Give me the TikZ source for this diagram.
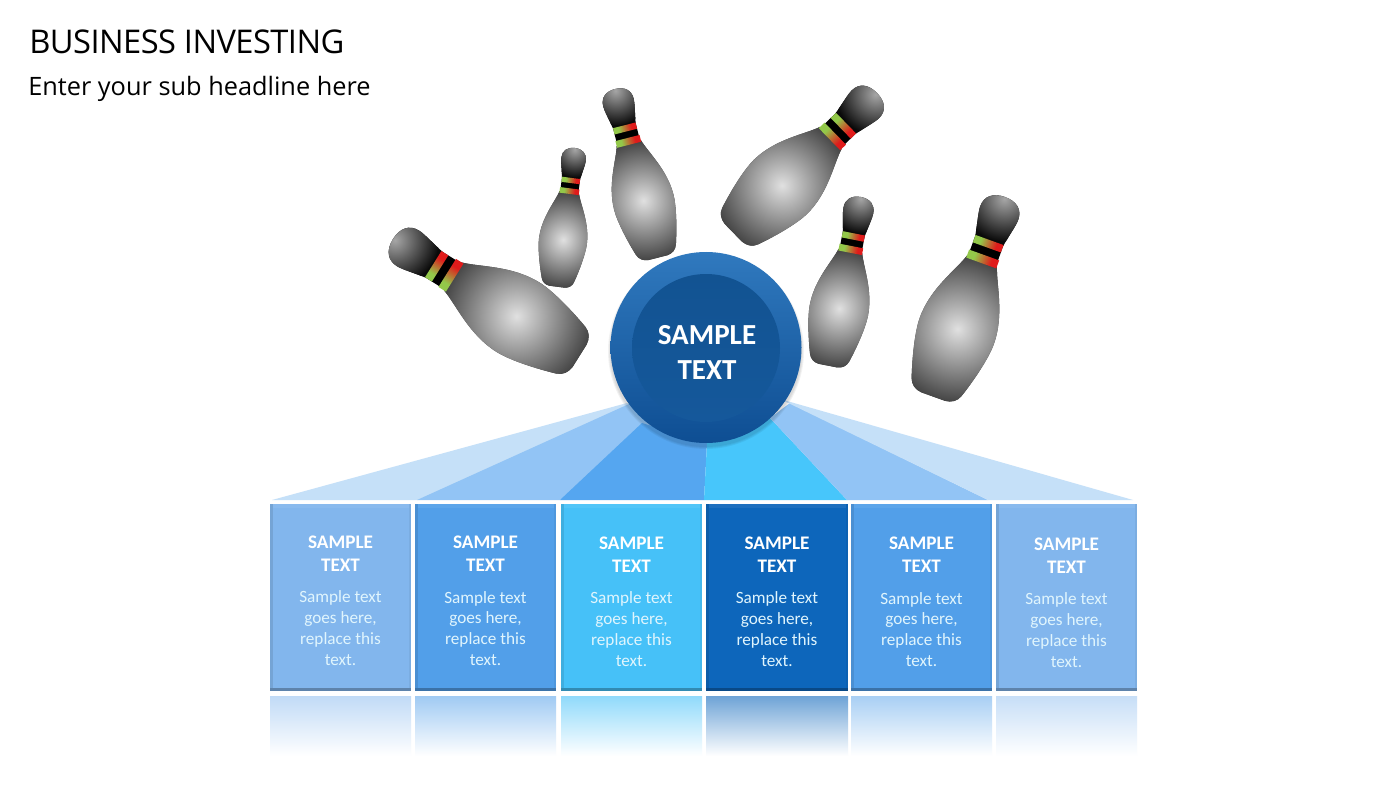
\documentclass[tikz,border=0pt]{standalone}
\usepackage{fontspec}
\setmainfont{Carlito}
\newfontfamily\titlefont[LetterSpace=-1.7]{Open Sans}
\newfontfamily\subtitlefont{Open Sans}
\usetikzlibrary{calc}
\definecolor{cA}{HTML}{82B6ED}
\definecolor{cB}{HTML}{529FE9}
\definecolor{cC}{HTML}{46C1F8}
\definecolor{cD}{HTML}{0D66BB}
\definecolor{fanA}{HTML}{C5E0F8}
\definecolor{fanB}{HTML}{92C4F5}
\definecolor{fanC}{HTML}{55A6F0}
\definecolor{fanD}{HTML}{47C6FB}
\definecolor{pinG}{HTML}{93C84A}
\definecolor{pinR}{HTML}{E01B1B}
\definecolor{ballTop}{HTML}{3079BE}
\definecolor{ballMid}{HTML}{16599C}
\definecolor{ballBot}{HTML}{0E4E93}
\definecolor{coreTop}{HTML}{125392}
\definecolor{coreBot}{HTML}{15589B}
\pgfdeclarehorizontalshading{bandsh}{100bp}{color(0bp)=(pinG);color(36bp)=(pinG);color(64bp)=(pinR);color(100bp)=(pinR)}
\tikzset{
  headtext/.style={font=\bfseries\fontsize{14.4}{17.2}\selectfont,text=white,align=center,inner sep=0pt},
  bodytext/.style={font=\fontsize{12.9}{15.7}\selectfont,text=white!88!cyan,align=center,inner sep=0pt},
  balltext/.style={font=\bfseries\fontsize{21.8}{26.5}\selectfont,text=white,align=center,inner sep=0pt},
  bandcol/.style={shading=bandsh},
}
% #1 tip x, #2 tip y, #3 base x, #4 base y, #5 width factor
\newcommand{\bowlingpin}[5]{%
  \pgfmathsetmacro{\pdx}{#3-#1}\pgfmathsetmacro{\pdy}{#4-#2}%
  \pgfmathsetmacro{\plen}{veclen(\pdx,\pdy)}%
  \pgfmathsetmacro{\pang}{90+atan2(-\pdy,\pdx)}%
  \pgfmathsetmacro{\psy}{\plen/100}%
  \pgfmathsetmacro{\psx}{\psy*#5}%
  \begin{scope}[transform canvas={shift={(#1,#2)},rotate=\pang,xscale=\psx,yscale=\psy}]
    % body
    \begin{scope}
      \path[clip] (-7.5,32) .. controls (-10,40) and (-18.5,52) .. (-18.5,67)
        .. controls (-18.5,74) and (-15.5,86) .. (-12.5,95)
        .. controls (-11.5,98) and (-9,99.5) .. (-6,99.8) -- (6,99.8)
        .. controls (9,99.5) and (11.5,98) .. (12.5,95)
        .. controls (15.5,86) and (18.5,74) .. (18.5,67)
        .. controls (18.5,52) and (10,40) .. (7.5,32) -- cycle;
      \fill[black!76] (-25,30) rectangle (25,102);
      \shade[inner color=black!12,outer color=black!76] (0,66) circle (36);
    \end{scope}
    % head
    \begin{scope}
      \path[clip] (0,0) .. controls (6,0) and (9.5,3) .. (9.5,8)
        .. controls (9.5,11) and (8,16) .. (7,22) -- (-7,22)
        .. controls (-8,16) and (-9.5,11) .. (-9.5,8)
        .. controls (-9.5,3) and (-6,0) .. (0,0) -- cycle;
      \fill[black!96] (-12,-1) rectangle (12,23);
      \shade[inner color=black!35,outer color=black!96] (0,1) circle (20);
    \end{scope}
    % band
    \fill[black] (-7,21.5) rectangle (7,32.5);
    \shade[bandcol] (-7,21.5) rectangle (7,25.2);
    \shade[bandcol] (-7.5,29) rectangle (7.5,33);
  \end{scope}%
}
% #1 name #2 left x #3 right x #4 colour #5 head y #6 reflection strength
\newcommand{\infobox}[6]{%
  \fill[#4] (#2,504) rectangle (#3,691);
  \fill[#4!94!white] (#2,504) rectangle (#3,508);
  \fill[#4!90!black] (#2,504) rectangle (#2+2.5,691);
  \fill[#4!95!black] (#3-2,504) rectangle (#3,691);
  \fill[#4!72!black] (#2,688) rectangle (#3,691);
  \shade[top color=#4!#6!white,bottom color=white] (#2,696) rectangle (#3,756);
  \node[headtext] (#1h) at ({(#2+#3)/2},#5) {SAMPLE\\TEXT};
  \node[bodytext] (#1b) at ({(#2+#3)/2},#5+74.5) {Sample text\\goes here,\\replace this\\text.};
}
\begin{document}
\begin{tikzpicture}[x=0.75pt,y=-0.75pt]
\useasboundingbox (0,0) rectangle (1400,788);
\fill[white] (0,0) rectangle (1400,788);
% titles
\node[anchor=base west,inner sep=0pt,font=\titlefont\fontsize{24.5}{28}\selectfont,text=black] (title) at (29,54) {BUSINESS INVESTING};
\node[anchor=base west,inner sep=0pt,font=\subtitlefont\fontsize{19}{22}\selectfont,text=black] (subtitle) at (28,96) {Enter your sub headline here};
% pins
\bowlingpin{393}{239}{580}{356}{1}
\bowlingpin{575}{148}{557}{287}{0.93}
\bowlingpin{615}{89}{658}{258}{0.95}
\bowlingpin{877}{93}{733}{233}{1.02}
\bowlingpin{861}{197}{828}{366}{0.93}
\bowlingpin{1005}{197}{933}{397}{1}
% fan
\fill[fanA] (272,500) -- (627,403) -- (660,420) -- (417,500) -- cycle;
\fill[fanB] (417,500) -- (640,399) -- (660,440) -- (560,500) -- cycle;
\fill[fanC] (560,500) -- (642,423) -- (707,443) -- (704,500) -- cycle;
\fill[fanD] (704,500) -- (707,443) -- (770,418) -- (847,500) -- cycle;
\fill[fanB] (847,500) -- (770,418) -- (790,403) -- (988,500) -- cycle;
\fill[fanA] (988,500) -- (780,399) -- (1133,500) -- cycle;
% ball
\foreach \r in {98,97,96}{\fill[black,opacity=0.05] (706,351) circle (\r);}
\shade[top color=ballTop,middle color=ballMid,bottom color=ballBot] (706,347.5) circle (95.5);
\shade[top color=coreTop,bottom color=coreBot] (706,348) circle (74);
\node[balltext] (ball) at (707,352.5) {SAMPLE\\TEXT};
% boxes
\infobox{a}{270}{411}{cA}{553.5}{50}
\infobox{b}{415}{556}{cB}{554}{55}
\infobox{c}{561}{702}{cC}{554.5}{60}
\infobox{d}{706}{848}{cD}{554.5}{60}
\infobox{e}{851}{992}{cB}{555}{50}
\infobox{f}{996}{1137}{cA}{555.5}{45}
\end{tikzpicture}
\end{document}
